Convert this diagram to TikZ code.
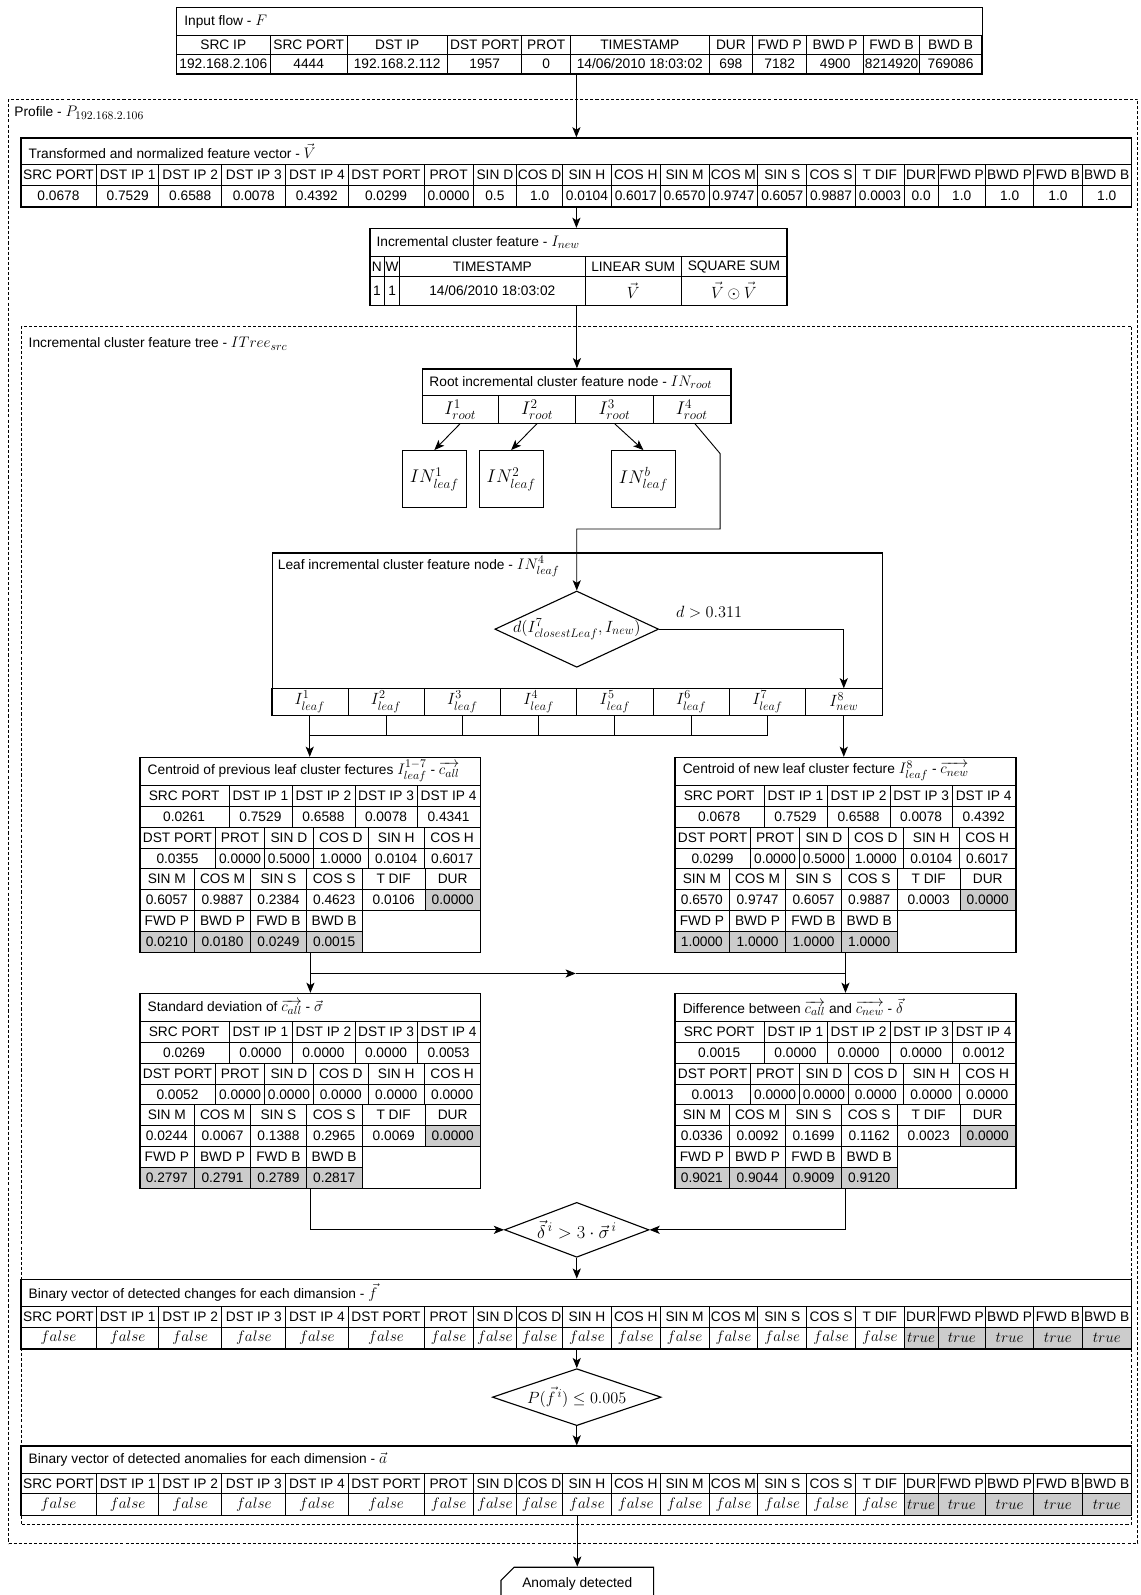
\RequirePackage{fix-cm}
\documentclass[tikz,border=0pt]{standalone}
\usepackage{amsmath}
\usepackage[no-math]{fontspec}
\setmainfont{Liberation Sans}
\usetikzlibrary{arrows.meta,positioning,shapes.geometric,shapes.misc}

\DeclareMathSizes{15}{15}{11.5}{9}
\DeclareMathSizes{16}{16}{12}{9}
\DeclareMathSizes{18}{18}{13}{10}
\definecolor{gcell}{RGB}{204,204,204}
\newcommand{\tabfont}{\fontsize{13.5}{15}\selectfont}
\newcommand{\mt}[1]{{\fontsize{15}{17}\selectfont$#1$}}
\newcommand{\mbig}[1]{{\fontsize{16}{18}\selectfont$#1$}}
\newcommand{\mlarge}[1]{{\fontsize{18}{20}\selectfont$#1$}}
\newcommand{\tval}[1]{{\fontsize{15}{17}\selectfont$#1$}}

\def\colin{{173,266,341,440,513,561,697,740,793,849,904,965}}
\def\colwide{{20,95,156,218,281,342,417,465,508,553,601,649,697,745,793,841,889,922,969,1016,1064,1112}}
\def\colicf{{363,378,393,575,670,773}}
\def\colroot{{415,490,566,642,718}}
\def\colleaf{{267,342,417,492,567,642,717,792,867}}
\def\colA{{0,88,150,212,273,335}}
\def\colB{{0,75,123,171,225,280,335}}
\def\colC{{0,54,109.5,164,219,281,335}}

\newcommand{\tabrow}[7]{%
  \foreach \txt [count=\k] in {#7}{%
    \pgfmathsetmacro{\xa}{#5[\k-1]}%
    \pgfmathsetmacro{\xb}{#5[\k]}%
    \ifnum\k<#6\relax\def\cf{none}\else\def\cf{gcell}\fi
    \node[cell, fill=\cf, minimum width={(\xb-\xa)*1pt}, minimum height={#4*1pt}]
      (#1-\k) at ({#2+(\xa+\xb)/2},{#3+#4/2}) {\txt};
  }%
}
\newcommand{\widehead}[2]{%
  \tabrow{#1}{0}{#2}{20.5}{\colwide}{99}{SRC PORT,DST IP 1,DST IP 2,DST IP 3,DST IP 4,DST PORT,PROT,SIN D,COS D,SIN H,COS H,SIN M,COS M,SIN S,COS S,T DIF,DUR,FWD P,BWD P,FWD B,BWD B}}
\newcommand{\smalltab}[4]{%
  \node[ttl] (#1-t) at ({#2+8},{#3+14}) {#4};
  \tabrow{#1-ha}{#2}{#3+28}{20.5}{\colA}{99}{SRC PORT,DST IP 1,DST IP 2,DST IP 3,DST IP 4}
  \tabrow{#1-hb}{#2}{#3+69}{20.5}{\colB}{99}{DST PORT,PROT,SIN D,COS D,SIN H,COS H}
  \tabrow{#1-hc}{#2}{#3+110}{20.5}{\colC}{99}{SIN M,COS M,SIN S,COS S,T DIF,DUR}
  \tabrow{#1-hd}{#2}{#3+151}{20.5}{\colC}{99}{FWD P,BWD P,FWD B,BWD B}}

\begin{document}
\begin{tikzpicture}[
    x=1pt, y=-1pt,
    font=\tabfont,
    cell/.style={draw, line width=0.7pt, inner sep=0pt, align=center},
    frame/.style={draw, line width=1.3pt, inner sep=0pt, anchor=north west},
    ttl/.style={anchor=west, inner sep=0pt},
    lbl/.style={inner sep=0pt},
    group/.style={draw, dash pattern=on 3pt off 2pt, line width=0.8pt, inner sep=0pt, anchor=north west},
    leafbox/.style={draw, line width=1.1pt, minimum width=63pt, minimum height=56pt, inner sep=0pt},
    test/.style={diamond, draw, line width=1.1pt, inner sep=0pt},
    arr/.style={-{Stealth[length=10pt,width=8pt,inset=2.5pt]}, line width=0.9pt},
    line/.style={line width=0.9pt}
]
\path[fill=white, use as bounding box] (0,0) rectangle (1121,1568);

\node[group, minimum width=1110pt, minimum height=1420pt] (profile) at (8,97) {};
\node[ttl] (profile-t) at (14,111) {Profile - \mt{P_{192.168.2.106}}};
\node[group, minimum width=1091pt, minimum height=1178pt] (itree) at (21,320) {};
\node[ttl] (itree-t) at (28,338) {Incremental cluster feature tree - \mt{ITree_{src}}};

\node[ttl] (inflow-t) at (181,21) {Input flow - \mt{F}};
\tabrow{inh}{0}{35}{18.5}{\colin}{99}{SRC IP,SRC PORT,DST IP,DST PORT,PROT,TIMESTAMP,DUR,FWD P,BWD P,FWD B,BWD B}
\tabrow{ind}{0}{53.5}{18.5}{\colin}{99}{192.168.2.106,4444,192.168.2.112,1957,0,14/06/2010 18:03:02,698,7182,4900,8214920,769086}

\node[ttl] (fvec-t) at (28,148.5) {Transformed and normalized feature vector - \mt{\vec{V}}};
\widehead{fvh}{162}
\tabrow{fvd}{0}{182.5}{20.5}{\colwide}{99}{0.0678,0.7529,0.6588,0.0078,0.4392,0.0299,0.0000,0.5,1.0,0.0104,0.6017,0.6570,0.9747,0.6057,0.9887,0.0003,0.0,1.0,1.0,1.0,1.0}

\node[ttl] (icf-t) at (370,238) {Incremental cluster feature - \mt{I_{new}}};
\tabrow{icfh}{0}{252}{20}{\colicf}{99}{N,W,TIMESTAMP,LINEAR SUM,SQUARE SUM}
\tabrow{icfd}{0}{272}{28}{\colicf}{99}{1,1,14/06/2010 18:03:02,\mbig{\vec{V}},\mbig{\vec{V}\odot\vec{V}}}

\node[ttl] (root-t) at (422,375.5) {Root incremental cluster feature node - \mt{IN_{root}}};
\tabrow{rc}{0}{389}{27}{\colroot}{99}{\mlarge{I^1_{root}},\mlarge{I^2_{root}},\mlarge{I^3_{root}},\mlarge{I^4_{root}}}

\node[leafbox] (leafa) at (427,471) {\mlarge{IN^1_{leaf}}};
\node[leafbox] (leafb) at (502.5,471) {\mlarge{IN^2_{leaf}}};
\node[leafbox] (leafc) at (632.5,471) {\mlarge{IN^b_{leaf}}};

\node[ttl] (leaf-t) at (273,557) {Leaf incremental cluster feature node - \mt{IN^4_{leaf}}};
\node[test, aspect=2.15, minimum width=161pt, minimum height=75pt] (dleaf) at (567,618.5) {\makebox[100pt]{\mbig{d(I^7_{closestLeaf},I_{new})}}};
\node[lbl] (dgt) at (697,602) {\mbig{d > 0.311}};
\tabrow{lf}{0}{677}{26}{\colleaf}{99}{\mbig{I^1_{leaf}},\mbig{I^2_{leaf}},\mbig{I^3_{leaf}},\mbig{I^4_{leaf}},\mbig{I^5_{leaf}},\mbig{I^6_{leaf}},\mbig{I^7_{leaf}},\mbig{I^8_{new}}}

\smalltab{prevc}{137}{744}{Centroid of previous leaf cluster fectures \mt{I^{1-7}_{leaf}} - \mt{\overrightarrow{c_{all}}}}
\tabrow{prevc-da}{137}{744+48.5}{20.5}{\colA}{99}{0.0261,0.7529,0.6588,0.0078,0.4341}
\tabrow{prevc-db}{137}{744+89.5}{20.5}{\colB}{99}{0.0355,0.0000,0.5000,1.0000,0.0104,0.6017}
\tabrow{prevc-dc}{137}{744+130.5}{20.5}{\colC}{6}{0.6057,0.9887,0.2384,0.4623,0.0106,0.0000}
\tabrow{prevc-dd}{137}{744+171.5}{20.5}{\colC}{1}{0.0210,0.0180,0.0249,0.0015}

\smalltab{newc}{663}{744}{Centroid of new leaf cluster fecture \mt{I^8_{leaf}} - \mt{\overrightarrow{c_{new}}}}
\tabrow{newc-da}{663}{744+48.5}{20.5}{\colA}{99}{0.0678,0.7529,0.6588,0.0078,0.4392}
\tabrow{newc-db}{663}{744+89.5}{20.5}{\colB}{99}{0.0299,0.0000,0.5000,1.0000,0.0104,0.6017}
\tabrow{newc-dc}{663}{744+130.5}{20.5}{\colC}{6}{0.6570,0.9747,0.6057,0.9887,0.0003,0.0000}
\tabrow{newc-dd}{663}{744+171.5}{20.5}{\colC}{1}{1.0000,1.0000,1.0000,1.0000}

\smalltab{stdt}{137}{976}{Standard deviation of \mt{\overrightarrow{c_{all}}} - \mt{\vec{\sigma}}}
\tabrow{stdt-da}{137}{976+48.5}{20.5}{\colA}{99}{0.0269,0.0000,0.0000,0.0000,0.0053}
\tabrow{stdt-db}{137}{976+89.5}{20.5}{\colB}{99}{0.0052,0.0000,0.0000,0.0000,0.0000,0.0000}
\tabrow{stdt-dc}{137}{976+130.5}{20.5}{\colC}{6}{0.0244,0.0067,0.1388,0.2965,0.0069,0.0000}
\tabrow{stdt-dd}{137}{976+171.5}{20.5}{\colC}{1}{0.2797,0.2791,0.2789,0.2817}

\smalltab{difft}{663}{976}{Difference between \mt{\overrightarrow{c_{all}}} and \mt{\overrightarrow{c_{new}}} - \mt{\vec{\delta}}}
\tabrow{difft-da}{663}{976+48.5}{20.5}{\colA}{99}{0.0015,0.0000,0.0000,0.0000,0.0012}
\tabrow{difft-db}{663}{976+89.5}{20.5}{\colB}{99}{0.0013,0.0000,0.0000,0.0000,0.0000,0.0000}
\tabrow{difft-dc}{663}{976+130.5}{20.5}{\colC}{6}{0.0336,0.0092,0.1699,0.1162,0.0023,0.0000}
\tabrow{difft-dd}{663}{976+171.5}{20.5}{\colC}{1}{0.9021,0.9044,0.9009,0.9120}

\node[test, aspect=2.6, minimum width=142pt, minimum height=54pt] (dchg) at (567,1209) {\mlarge{\vec{\delta}^{\,i} > 3\cdot\vec{\sigma}^{\,i}}};

\node[ttl] (chg-t) at (28,1270.5) {Binary vector of detected changes for each dimansion - \mt{\vec{f}}};
\widehead{chgh}{1284}
\tabrow{chgd}{0}{1304.5}{21}{\colwide}{17}{\tval{false},\tval{false},\tval{false},\tval{false},\tval{false},\tval{false},\tval{false},\tval{false},\tval{false},\tval{false},\tval{false},\tval{false},\tval{false},\tval{false},\tval{false},\tval{false},\tval{true},\tval{true},\tval{true},\tval{true},\tval{true}}

\node[test, aspect=2.96, minimum width=166pt, minimum height=56pt] (dano) at (567,1373.5) {\mbig{P(\vec{f}^{\,i}) \leq 0.005}};

\node[ttl] (ano-t) at (28,1434.5) {Binary vector of detected anomalies for each dimension - \mt{\vec{a}}};
\widehead{anoh}{1448}
\tabrow{anod}{0}{1468.5}{21}{\colwide}{17}{\tval{false},\tval{false},\tval{false},\tval{false},\tval{false},\tval{false},\tval{false},\tval{false},\tval{false},\tval{false},\tval{false},\tval{false},\tval{false},\tval{false},\tval{false},\tval{false},\tval{true},\tval{true},\tval{true},\tval{true},\tval{true}}

\node[draw, line width=1.1pt, chamfered rectangle, chamfered rectangle corners=north west,
    chamfered rectangle xsep=6pt, chamfered rectangle ysep=7pt,
    minimum width=150pt, minimum height=36pt, text height=10pt, text depth=10pt] (adet) at (567.5,1561) {Anomaly detected};

\node[frame, minimum width=792pt, minimum height=65pt] (inflow) at (173,7) {};
\node[frame, minimum width=1092pt, minimum height=68pt] (fvec) at (20,135) {};
\node[frame, minimum width=410pt, minimum height=76pt] (icf) at (363,224) {};
\node[frame, minimum width=303pt, minimum height=54pt] (root) at (415,362) {};
\node[frame, minimum width=600pt, minimum height=160pt] (leaf) at (267,543) {};
\node[frame, minimum width=335pt, minimum height=192pt] (prevc) at (137,744) {};
\node[frame, minimum width=335pt, minimum height=192pt] (newc) at (663,744) {};
\node[frame, minimum width=335pt, minimum height=192pt] (stdt) at (137,976) {};
\node[frame, minimum width=335pt, minimum height=192pt] (difft) at (663,976) {};
\node[frame, minimum width=1092pt, minimum height=69pt] (chg) at (20,1257) {};
\node[frame, minimum width=1092pt, minimum height=68.5pt] (ano) at (20,1421) {};

\coordinate (bendA) at (708,446);
\coordinate (bendB) at (708,520);
\coordinate (bus) at (0,723);
\coordinate (hub) at (566,957);

\draw[arr] (inflow.south -| fvec.north) -- (fvec.north);
\draw[arr] (fvec.south) -- (fvec.south |- icf.north);
\draw[arr] (icf.south -| root.north) -- (root.north);
\draw[arr] (rc-1.south) -- (leafa.north);
\draw[arr] (rc-2.south) -- (leafb.north);
\draw[arr] (rc-3.south) -- (leafc.north);
\draw[arr] ([xshift=3pt]rc-4.south) -- (bendA) -- (bendB) -- (bendB -| dleaf.north) -- (dleaf.north);
\draw[arr] (dleaf.east) -| (lf-8.north);
\foreach \k in {1,...,7}
    \draw[line] (lf-\k.south) -- (lf-\k.south |- bus);
\draw[line] (lf-1.south |- bus) -- (lf-7.south |- bus);
\draw[arr] (lf-1.south |- bus) -- (lf-1.south |- prevc.north);
\draw[arr] (lf-8.south) -- (lf-8.south |- newc.north);
\draw[arr] (prevc.south) -- (stdt.north);
\draw[arr] (newc.south) -- (difft.north);
\draw[arr] (prevc.south |- hub) -- (hub);
\draw[line] (hub) -- (newc.south |- hub);
\draw[arr] (stdt.south) |- (dchg.west);
\draw[arr] (difft.south) |- (dchg.east);
\draw[arr] (dchg.south) -- (dchg.south |- chg.north);
\draw[arr] (chg.south -| dano.north) -- (dano.north);
\draw[arr] (dano.south) -- (dano.south |- ano.north);
\draw[arr] (ano.south -| adet.north) -- (adet.north);

\end{tikzpicture}
\end{document}
